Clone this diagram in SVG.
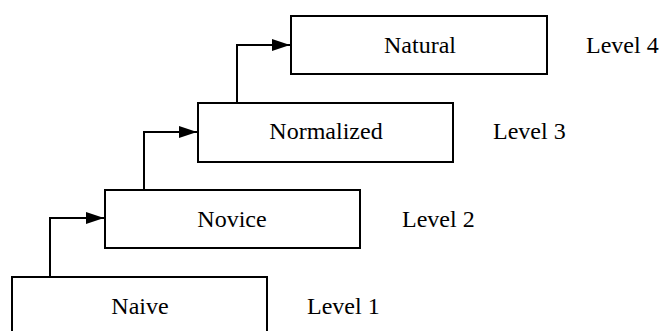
<svg xmlns="http://www.w3.org/2000/svg" width="661" height="331" viewBox="0 0 661 331">
<style>
.box{fill:#fff;stroke:#000;stroke-width:2}
.lbl{font-family:"Liberation Serif","Times New Roman",serif;font-size:24px;fill:#000}
.mid{text-anchor:middle}
.conn{fill:none;stroke:#000;stroke-width:2}
</style>
<defs>
<marker id="ah" markerWidth="18" markerHeight="12" refX="18" refY="6" orient="auto" markerUnits="userSpaceOnUse">
<path d="M0,0 L18,6 L0,12 Z" fill="#000"/>
</marker>
</defs>
<g id="naive"><rect class="box" x="12" y="277" width="255" height="70"/><text class="lbl mid" x="140" y="314">Naive</text></g>
<g id="novice"><rect class="box" x="105" y="190" width="255" height="58"/><text class="lbl mid" x="232" y="227">Novice</text></g>
<g id="normalized"><rect class="box" x="198" y="103" width="255" height="59"/><text class="lbl mid" x="326" y="139">Normalized</text></g>
<g id="natural"><rect class="box" x="291" y="16" width="256" height="58"/><text class="lbl mid" x="420" y="53">Natural</text></g>
<g id="level1"><text class="lbl" x="307" y="314">Level 1</text></g>
<g id="level2"><text class="lbl" x="402" y="227">Level 2</text></g>
<g id="level3"><text class="lbl" x="493" y="139">Level 3</text></g>
<g id="level4"><text class="lbl" x="586" y="53">Level 4</text></g>
<g id="connectors">
<path class="conn" d="M50,277 V218 H104" marker-end="url(#ah)"/>
<path class="conn" d="M144,190 V132 H197" marker-end="url(#ah)"/>
<path class="conn" d="M237,103 V45 H290" marker-end="url(#ah)"/>
</g>
</svg>
